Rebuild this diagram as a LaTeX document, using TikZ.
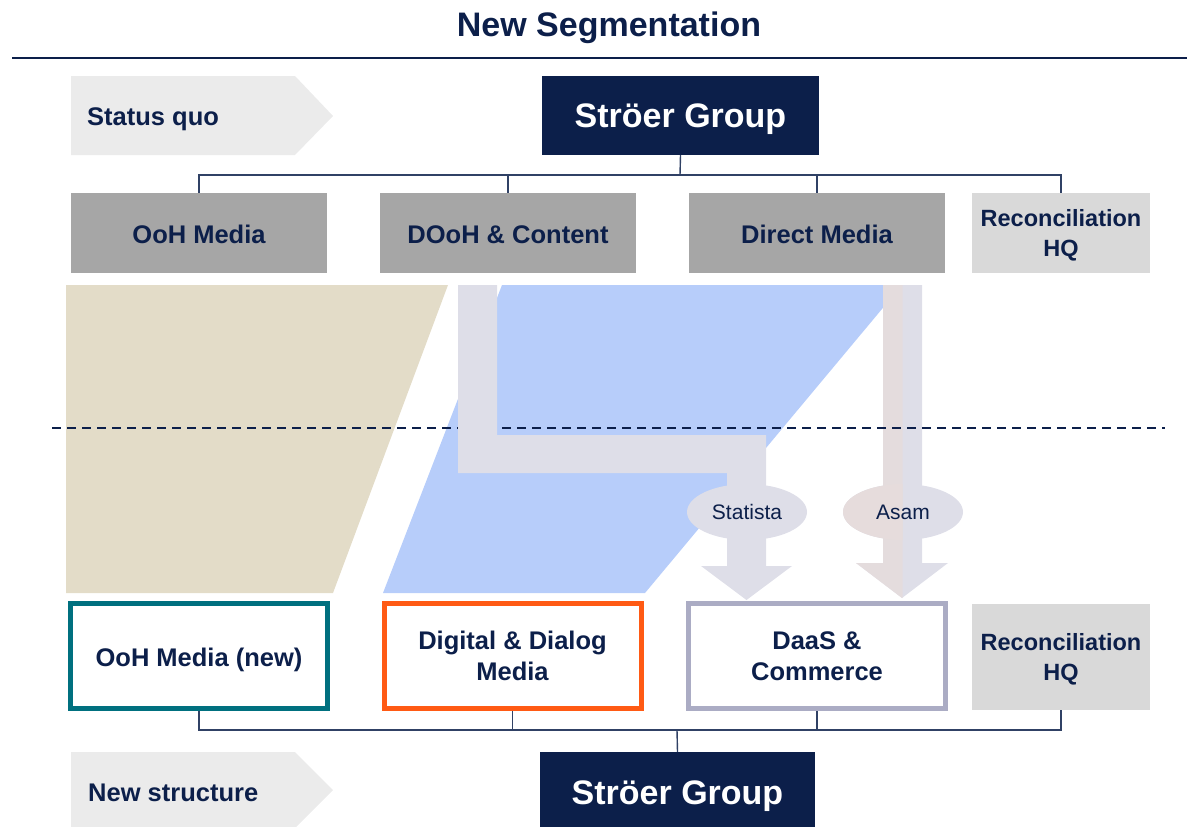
\documentclass[tikz,border=0pt]{standalone}
\usepackage{fontspec}
\setmainfont{Liberation Sans}
\usetikzlibrary{calc,shapes.geometric}
\definecolor{navy}{RGB}{12,31,74}
\definecolor{gdark}{HTML}{A6A6A6}
\definecolor{glight}{HTML}{D9D9D9}
\definecolor{chev}{HTML}{EBEBEB}
\definecolor{beige}{HTML}{E3DCC8}
\definecolor{lblue}{HTML}{B7CDFA}
\definecolor{lav}{HTML}{DEDEE8}
\definecolor{pinkg}{HTML}{E6DCDC}
\definecolor{teal}{HTML}{00707F}
\definecolor{orng}{HTML}{FF5A14}
\definecolor{daas}{HTML}{ABACC4}
\newcommand{\fs}[1]{\fontsize{#1}{#1}\selectfont}
\tikzset{
  lbl/.style={font=\bfseries\fs{25.5}, text=navy, align=center, inner sep=0pt, text depth=0pt},
  group/.style={fill=navy, text=white, font=\bfseries\fs{34}, inner sep=0pt, text depth=0pt, minimum height=80pt},
  oldbox/.style={fill=gdark, lbl, minimum width=256pt, minimum height=80pt},
  reconbox/.style={fill=glight, lbl, font=\bfseries\fs{23.5}, minimum width=178pt},
  newbox/.style={draw, line width=5pt, fill=white, lbl, minimum width=257pt, minimum height=105pt},
  conn/.style={draw=navy!85!white, line width=1.4pt},
  chevron/.style={fill=chev},
  oval/.style={font=\fs{21}, text=navy, inner sep=0pt},
}
\begin{document}
\begin{tikzpicture}[x=1pt,y=-1pt]
\useasboundingbox (0,0) rectangle (1187,827);
% title
\node[font=\bfseries\fs{34}, text=navy, inner sep=0pt, text depth=0pt] (title) at (609,24) {New Segmentation};
\coordinate (hl) at (12,58);
\coordinate (hr) at (1187,58);
\draw[navy, line width=2pt] (hl) -- (hr);
% chevrons
\fill[chevron] (71,76) -- (295,76) -- (333,116) -- (295,155) -- (71,155) -- cycle;
\node[lbl, anchor=west] (sq) at (87,117) {Status quo};
\fill[chevron] (71,752) -- (295,752) -- (333,790) -- (295,828) -- (71,828) -- cycle;
\node[lbl, anchor=west] (ns) at (88,793) {New structure};
% top
\node[group, minimum width=277pt, minimum height=79pt] (sg1) at (680.5,115.5) {Ströer Group};
\node[oldbox] (b1) at (199,233) {\raisebox{-2pt}{OoH Media}};
\node[oldbox] (b2) at (508,233) {\raisebox{-2.5pt}{DOoH \& Content}};
\node[oldbox] (b3) at (817,233) {\raisebox{-2pt}{Direct Media}};
\node[reconbox, minimum height=80pt] (b4) at (1061,233) {Reconciliation\\[7pt]HQ};
\coordinate (jt) at (680,175);
\draw[conn] (sg1.south) -- (jt);
\draw[conn] (b1.north) |- (jt) -| (b4.north);
\draw[conn] (b2.north) -- (b2.north |- jt);
\draw[conn] (b3.north) -- (b3.north |- jt);
% transition shapes
\fill[beige] (66,285) -- (448,285) -- (333,593) -- (66,593) -- cycle;
\fill[lblue] (502,285) -- (902,285) -- (645,593) -- (383,593) -- cycle;
% Asam arrow
\begin{scope}
\fill[lav] (883,285) -- (922,285) -- (922,563) -- (948,563) -- (902,598) -- (856,563) -- (883,563) -- cycle;
\fill[lav] (903,512) ellipse [x radius=60, y radius=28];
\clip (800,280) rectangle (902.5,610);
\fill[pinkg, opacity=0.85] (883,285) -- (922,285) -- (922,563) -- (948,563) -- (902,598) -- (856,563) -- (883,563) -- cycle;
\fill[pinkg] (903,512) ellipse [x radius=60, y radius=28];
\end{scope}
% dashed line
\coordinate (dl) at (52,428);
\coordinate (dr) at (1165,428);
\draw[navy, line width=1.5pt, dash pattern=on 9pt off 6pt] (dl) -- (dr);
% Statista arrow
\fill[lav] (458,285) -- (497,285) -- (497,435) -- (766,435) -- (766,566) -- (792,566) -- (746.5,600) -- (701,566) -- (727,566) -- (727,473) -- (458,473) -- cycle;
\node[oval, fill=lav, ellipse, minimum width=120pt, minimum height=56pt] (stat) at (747,512) {Statista};
\node[oval] (asam) at (903,512) {Asam};
% bottom
\node[newbox, draw=teal] (n1) at (199,656) {\raisebox{-2pt}{OoH Media (new)}};
\node[newbox, draw=orng] (n2) at (512.5,656) {Digital \& Dialog\\[6pt]Media};
\node[newbox, draw=daas] (n3) at (817,656) {DaaS \&\\[6pt]Commerce};
\node[reconbox, minimum height=106pt] (n4) at (1061,657) {Reconciliation\\[7pt]HQ};
\node[group, minimum width=275pt, minimum height=82pt] (sg2) at (677.5,793) {Ströer Group};
\coordinate (jb) at (677,730);
\draw[conn] (sg2.north) -- (jb);
\draw[conn] (n1.south) |- (jb) -| (n4.south);
\draw[conn] (n2.south) -- (n2.south |- jb);
\draw[conn] (n3.south) -- (n3.south |- jb);
\end{tikzpicture}
\end{document}
